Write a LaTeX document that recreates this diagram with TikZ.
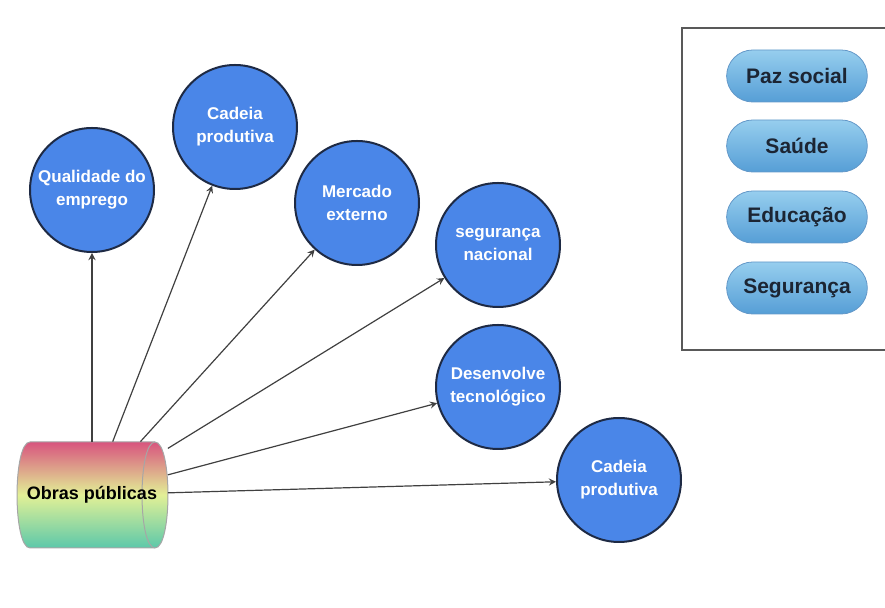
\documentclass[tikz,border=0pt]{standalone}
\usepackage{fontspec}
\setmainfont{Liberation Sans}
\usetikzlibrary{arrows,shapes.misc}
\definecolor{CircClr}{RGB}{74,134,232}
\definecolor{CircLine}{RGB}{30,42,68}
\definecolor{PillTop}{RGB}{150,206,238}
\definecolor{PillBot}{RGB}{86,158,214}
\definecolor{PillLine}{RGB}{100,152,200}
\definecolor{PillText}{RGB}{28,37,51}
\definecolor{ObraTop}{RGB}{216,84,126}
\definecolor{ObraMid}{RGB}{226,240,150}
\definecolor{ObraBot}{RGB}{92,200,170}

\begin{document}
\begin{tikzpicture}[x=0.5pt,y=-0.5pt,
  impact/.style={circle,fill=CircClr,draw=CircLine,line width=1pt,
    minimum size=62pt,inner sep=0pt,text=white,align=center,
    font=\bfseries\fontsize{8.5}{11.5}\selectfont},
  pill/.style={rounded rectangle,draw=PillLine,line width=0.4pt,
    top color=PillTop,bottom color=PillBot,minimum width=77pt,
    minimum height=26pt,text=PillText,font=\bfseries\fontsize{10.5}{12}\selectfont},
  link/.style={->,>=stealth,line width=0.6pt,draw=black!75}]
\useasboundingbox (0,0) rectangle (885,608);

% cilindro
\shade[top color=ObraTop,bottom color=ObraBot,middle color=ObraMid,draw=gray!70,line width=0.5pt]
  (30,442) -- (155,442) .. controls (172.3,442) and (172.3,548) .. (155,548)
  -- (30,548) .. controls (12.7,548) and (12.7,442) .. (30,442) -- cycle;
\draw[gray!70,line width=0.5pt] (155,442) .. controls (137.7,442) and (137.7,548) .. (155,548);
\node[minimum width=75.5pt,minimum height=53pt,inner sep=0pt,
  font=\bfseries\fontsize{9}{11}\selectfont] (obras) at (92,495) {Obras públicas};

\node[impact] (qual) at (92,190) {Qualidade do\\emprego};
\node[impact] (cadA) at (235,127) {Cadeia\\produtiva};
\node[impact] (merc) at (357,203) {Mercado\\externo};
\node[impact] (seg) at (498,245) {segurança\\nacional};
\node[impact] (desv) at (498,387) {Desenvolve\\tecnológico};
\node[impact] (cadB) at (619,480) {Cadeia\\produtiva};

\draw[link] (obras) -- (qual);
\draw[link] (obras) -- (cadA);
\draw[link] (obras) -- (merc);
\draw[link] (obras) -- (seg);
\draw[link] (obras) -- (desv);
\draw[link] (obras) -- (cadB);

% quadro lateral
\draw[black!65,line width=1pt] (682,28) rectangle (900,350);
\node[pill] (paz) at (797,76) {Paz social};
\node[pill] (saude) at (797,146) {Saúde};
\node[pill] (educ) at (797,217) {Educação};
\node[pill] (segur) at (797,288) {Segurança};

\end{tikzpicture}
\end{document}
